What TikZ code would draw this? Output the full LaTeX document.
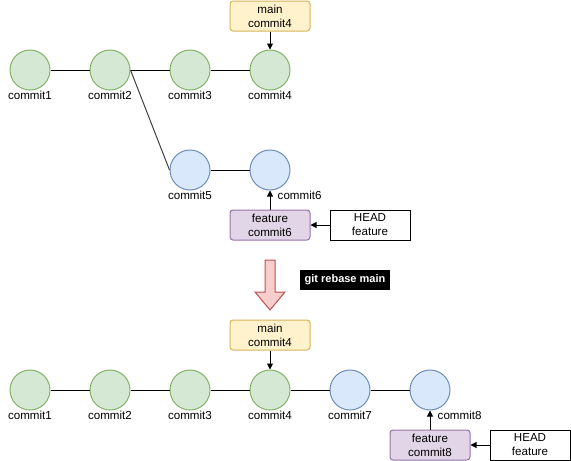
\documentclass[tikz,border=0pt]{standalone}
\usepackage{fontspec}
\setmainfont{Liberation Sans}
\usetikzlibrary{arrows.meta}

\definecolor{verdefundo}{HTML}{D5E8D4}
\definecolor{verdeborda}{HTML}{82B366}
\definecolor{azulfundo}{HTML}{DAE8FC}
\definecolor{azulborda}{HTML}{6C8EBF}
\definecolor{amarelofundo}{HTML}{FFF2CC}
\definecolor{amareloborda}{HTML}{D6B656}
\definecolor{roxofundo}{HTML}{E1D5E7}
\definecolor{roxoborda}{HTML}{9673A6}
\definecolor{vermelhofundo}{HTML}{F8CECC}
\definecolor{vermelhoborda}{HTML}{B85450}

\tikzset{
    texto/.style={font=\fontsize{11.6}{14}\selectfont},
    rotulo/.style={texto, inner sep=0.5pt},
    commitverde/.style={circle, draw=verdeborda, fill=verdefundo, line width=1pt, minimum size=40pt, inner sep=0pt},
    commitazul/.style={commitverde, draw=azulborda, fill=azulfundo},
    caixa/.style={texto, draw, line width=1pt, minimum width=80pt, minimum height=30pt, inner sep=0pt, align=center},
    ramomain/.style={caixa, draw=amareloborda, fill=amarelofundo, rounded corners=3pt},
    ramofeature/.style={caixa, draw=roxoborda, fill=roxofundo, rounded corners=3pt},
    seta/.style={-{Triangle[length=6pt,width=6pt]}, line width=1pt}
}

\def\ycima{70}
\def\ybaixo{390}

\begin{document}
\begin{tikzpicture}[x=1pt, y=-1pt]
\useasboundingbox (0,0) rectangle (571,461);

%antes do rebase
    \foreach \i/\x in {1/30,2/110,3/190,4/270}
        \node[commitverde, label={[rotulo]below:commit\i}] (a\i) at (\x,\ycima) {};

    \node[commitazul, label={[rotulo]below:commit5}] (a5) at (190,170) {};
    \node[commitazul, label={[rotulo, anchor=west, xshift=7pt, yshift=-5pt]south:commit6}] (a6) at (270,170) {};

    \draw[line width=1pt] (a1) -- (a2) -- (a3) -- (a4);
    \draw[line width=1pt, black!75] (a2.east) -- (a5.west);
    \draw[line width=1pt] (a5) -- (a6);

    \node[ramomain] (main1) at (270,16) {main\\commit4};
    \node[ramofeature] (feat1) at (270,225) {feature\\commit6};
    \node[caixa] (head1) at (370,225) {HEAD\\feature};

    \draw[seta] (main1) -- (a4);
    \draw[seta] (feat1) -- (a6);
    \draw[seta] (head1) -- (feat1);

%rebase
    \draw[line width=1pt, draw=vermelhoborda, fill=vermelhofundo]
        (265,260) -- (275,260) -- (275,292) -- (285,292) -- (270,310)
        -- (255,292) -- (265,292) -- cycle;
    \node[texto, font=\fontsize{11}{14}\selectfont\bfseries, fill=black, text=white,
        minimum width=90pt, minimum height=20pt, inner sep=0pt] (cmd) at (345,280) {git rebase main};

%depois do rebase
    \foreach \i/\x in {1/30,2/110,3/190,4/270}
        \node[commitverde, label={[rotulo]below:commit\i}] (b\i) at (\x,\ybaixo) {};

    \node[commitazul, label={[rotulo]below:commit7}] (b7) at (350,\ybaixo) {};
    \node[commitazul, label={[rotulo, anchor=west, xshift=7pt, yshift=-5pt]south:commit8}] (b8) at (430,\ybaixo) {};

    \draw[line width=1pt] (b1) -- (b2) -- (b3) -- (b4) -- (b7) -- (b8);

    \node[ramomain] (main2) at (270,335) {main\\commit4};
    \node[ramofeature] (feat2) at (430,445) {feature\\commit8};
    \node[caixa] (head2) at (530,445) {HEAD\\feature};

    \draw[seta] (main2) -- (b4);
    \draw[seta] (feat2) -- (b8);
    \draw[seta] (head2) -- (feat2);

\end{tikzpicture}
\end{document}
